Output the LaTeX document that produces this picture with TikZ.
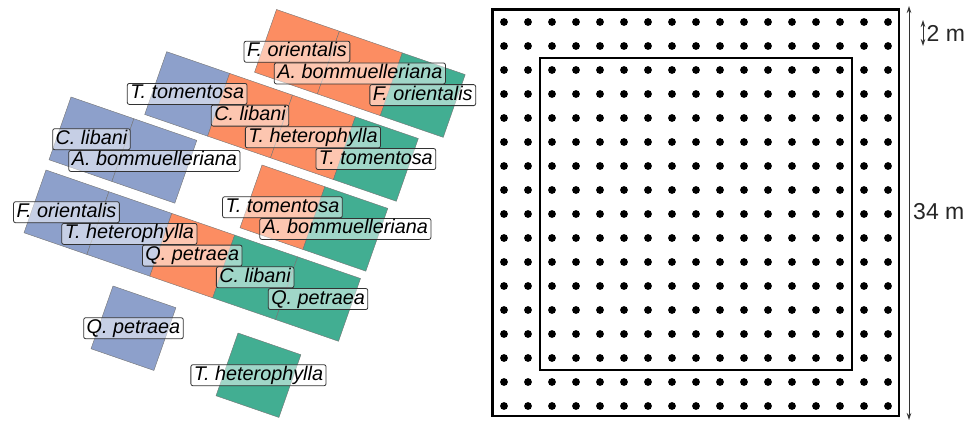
\documentclass[tikz,border=0pt]{standalone}
\usepackage{fontspec}
\setmainfont{Liberation Sans}
\usetikzlibrary{arrows.meta}
\definecolor{cblue}{RGB}{141,160,203}
\definecolor{corange}{RGB}{252,141,98}
\definecolor{cgreen}{RGB}{66,174,146}
\tikzset{
  plotsq/.style={draw=black!55, line width=0.4pt},
  sp/.style={draw=black!80, line width=0.8pt, rounded corners=2pt, fill=white, fill opacity=0.5, text opacity=1,
    font=\fontsize{19.8}{22}\selectfont\itshape, inner xsep=3pt, inner ysep=1.5pt, text height=14pt, text depth=4pt},
  strip/.style={x={(62.9pt,-21.7pt)}, y={(-21.98pt,-62.76pt)}},
  stripA/.style={shift={(276.5pt,-9.5pt)}, strip},
  stripB/.style={shift={(166.7pt,-51.7pt)}, strip},
  stripC/.style={shift={(71pt,-97pt)}, strip},
  stripD/.style={shift={(46pt,-170pt)}, strip},
  stripE/.style={shift={(262pt,-165pt)}, strip},
  stripF/.style={shift={(113pt,-286pt)}, strip},
  stripG/.style={shift={(238pt,-333pt)}, strip},
  dbl/.style={{Stealth[length=7pt,width=4.5pt]}-{Stealth[length=7pt,width=4.5pt]}, line width=0.8pt, draw=black!80},
  dim/.style={anchor=west, font=\fontsize{23}{26}\selectfont, text=black!85, inner sep=0pt},
  frame/.style={line width=2.4pt, draw=black},
}
\newcommand\sq[2]{\path[plotsq, fill=#2] (#1,0) -- ++(1,0) -- ++(0,1) -- ++(-1,0) -- cycle;}
\begin{document}
\begin{tikzpicture}[x=1pt,y=-1pt]
\useasboundingbox (0,0) rectangle (971,423);
% plots
\begin{scope}[stripA]
  \sq{0}{corange}\sq{1}{corange}\sq{2}{cgreen}
\end{scope}
\begin{scope}[stripB]
  \sq{0}{cblue}\sq{1}{corange}\sq{2}{corange}\sq{3}{cgreen}
\end{scope}
\begin{scope}[stripC]
  \sq{0}{cblue}\sq{1}{cblue}
\end{scope}
\begin{scope}[stripD]
  \sq{0}{cblue}\sq{1}{cblue}\sq{2}{corange}\sq{3}{cgreen}\sq{4}{cgreen}
\end{scope}
\begin{scope}[stripE]
  \sq{0}{corange}\sq{1}{cgreen}
\end{scope}
\begin{scope}[stripF]
  \sq{0}{cblue}
\end{scope}
\begin{scope}[stripG]
  \sq{0}{cgreen}
\end{scope}
% labels
\begin{scope}[stripA]
  \node[sp] (a1) at (0.5,0.5) {F. orientalis};
  \node[sp] (a2) at (1.5,0.5) {A. bommuelleriana};
  \node[sp] (a3) at (2.5,0.5) {F. orientalis};
\end{scope}
\begin{scope}[stripB]
  \node[sp] (b1) at (0.5,0.5) {T. tomentosa};
  \node[sp] (b2) at (1.5,0.5) {C. libani};
  \node[sp] (b3) at (2.5,0.5) {T. heterophylla};
  \node[sp] (b4) at (3.5,0.5) {T. tomentosa};
\end{scope}
\begin{scope}[stripC]
  \node[sp] (c1) at (0.5,0.5) {C. libani};
  \node[sp] (c2) at (1.5,0.5) {A. bommuelleriana};
\end{scope}
\begin{scope}[stripD]
  \node[sp] (d1) at (0.5,0.5) {F. orientalis};
  \node[sp] (d2) at (1.5,0.5) {T. heterophylla};
  \node[sp] (d3) at (2.5,0.5) {Q. petraea};
  \node[sp] (d4) at (3.5,0.5) {C. libani};
  \node[sp] (d5) at (4.5,0.5) {Q. petraea};
\end{scope}
\begin{scope}[stripE]
  \node[sp] (e1) at (0.5,0.5) {T. tomentosa};
  \node[sp] (e2) at (1.5,0.5) {A. bommuelleriana};
\end{scope}
\begin{scope}[stripF]
  \node[sp] (f1) at (0.5,0.5) {Q. petraea};
\end{scope}
\begin{scope}[stripG]
  \node[sp] (g1) at (0.5,0.5) {T. heterophylla};
\end{scope}
% grid plot
\draw[frame] (492.5,9.5) rectangle (899,416);
\draw[frame] (540,58) rectangle (852,370);
\foreach \i in {0,...,16}{
  \foreach \j in {0,...,16}{
    \fill ({504+24*\i},{22+24*\j}) circle (3.9pt);
  }
}
\coordinate (bigtop) at (909,6);
\coordinate (bigbot) at (909,420);
\draw[dbl] (bigtop) -- (bigbot);
\coordinate (smtop) at (923,20);
\coordinate (smbot) at (923,46);
\draw[dbl] (smtop) -- (smbot);
\node[dim] (twom) at (926.5,33) {2 m};
\node[dim] (tfm) at (913,212) {34 m};
\end{tikzpicture}
\end{document}
